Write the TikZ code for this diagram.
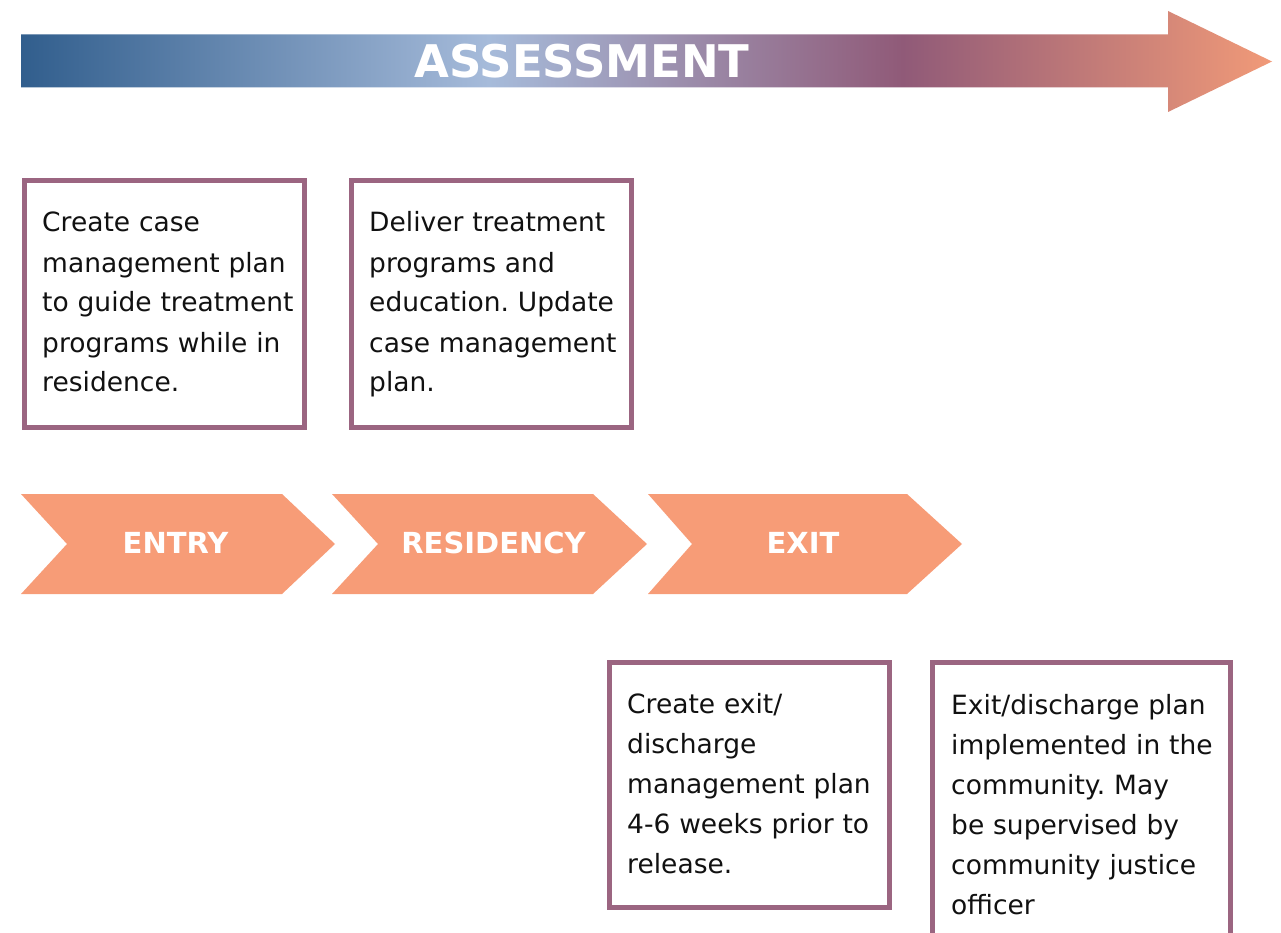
\documentclass[tikz,border=0pt]{standalone}
\usepackage{fontspec}
\setmainfont{DejaVu Sans}
\usetikzlibrary{calc}
\frenchspacing

% palette
\definecolor{gA}{RGB}{49,94,141}
\definecolor{gB}{RGB}{166,187,218}
\definecolor{gC}{RGB}{144,90,120}
\definecolor{gD}{RGB}{241,154,120}
\definecolor{boxedge}{RGB}{155,101,129}
\definecolor{chev}{RGB}{247,156,119}
\definecolor{ink}{RGB}{17,17,17}

% blue -> pale blue -> mauve -> salmon, spread over the arrow's width
\pgfdeclarehorizontalshading{assessgrad}{100bp}{%
  color(0bp)=(gA); color(25bp)=(gA); color(43.7bp)=(gB);
  color(60.25bp)=(gC); color(75bp)=(gD); color(100bp)=(gD)}

\begin{document}
\begin{tikzpicture}[x=1pt,y=-1pt,
  boxline/.style={draw=boxedge,line width=5pt},
  boxtext/.style={anchor=base west,inner sep=0pt,text width=300pt,align=left,
    text=ink,font=\fontsize{26.5}{40}\selectfont},
  chevron/.style={fill=chev,draw=none},
  chevlabel/.style={text=white,inner sep=0pt,anchor=base,
    font=\fontsize{29}{34}\selectfont\bfseries}]

\useasboundingbox (0,0) rectangle (1281,933);
\clip (0,0) rectangle (1281,933);

% assessment arrow
\shade[shading=assessgrad]
  (21,34.5) -- (1168,34.5) -- (1168,11) -- (1272,61.5) -- (1168,112)
  -- (1168,87.5) -- (21,87.5) -- cycle;
\node[text=white,inner sep=0pt,anchor=base,
  font=\fontsize{45}{50}\selectfont\bfseries] (assess) at (582,78) {ASSESSMENT};

% upper boxes
\draw[boxline] (24,181) rectangle (304,427.5);
\node[boxtext] (plan) at (42,232)
  {Create case\\management plan\\to guide treatment\\programs while in\\residence.};

\draw[boxline] (351,181) rectangle (631,427.5);
\node[boxtext] (deliver) at (369,232)
  {Deliver treatment\\programs and\\education. Update\\case management\\plan.};

% stage chevrons
\fill[chevron] (21,494) -- (282,494) -- (335,544) -- (282,594) -- (21,594) -- (67,544) -- cycle;
\fill[chevron] (332,494) -- (593,494) -- (647,544) -- (593,594) -- (332,594) -- (378,544) -- cycle;
\fill[chevron] (648,494) -- (907,494) -- (962,544) -- (907,594) -- (648,594) -- (692,544) -- cycle;
\node[chevlabel] (entry) at (175.5,553) {ENTRY};
\node[chevlabel] (residency) at (493.5,553) {RESIDENCY};
\node[chevlabel] (exit) at (803,553) {EXIT};

% lower boxes
\draw[boxline] (609,662.5) rectangle (889,907.5);
\node[boxtext] (exitplan) at (627,713)
  {Create exit/\\discharge\\management plan\\4-6 weeks prior to\\release.};

\draw[boxline] (932.5,662.5) rectangle (1230,960);
\node[boxtext] (community) at (951,714)
  {Exit/discharge plan\\implemented in the\\community. May\\be supervised by\\community justice\\officer};

\end{tikzpicture}
\end{document}
